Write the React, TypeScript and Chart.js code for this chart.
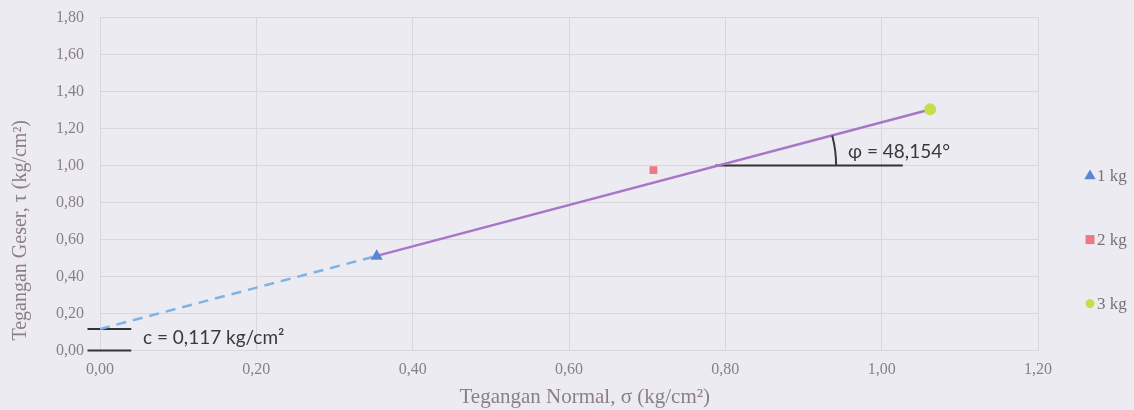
import React, { useEffect, useRef } from "react";
import { Chart, registerables } from "chart.js";

Chart.register(...registerables);

// ---- data ----
const categories = ["1 kg", "2 kg", "3 kg"];
const normalStress = [0.354, 0.708, 1.062];
const shearStress = [0.51, 0.975, 1.305];
const fitLineX = [0.354, 1.062];
const fitLineY = [0.512, 1.303];
const extrapX = [0, 0.354];
const extrapY = [0.117, 0.512];
const cohesionMarkX = [-0.016, 0.04];
const cohesionMarkY = [0.117, 0.117];
const zeroMarkY = [0, 0];
const angleBaseX = [0.787, 1.027];
const angleBaseY = [1.0, 1.0];
const cohesionLabel = "c = 0,117 kg/cm²";
const phiLabel = "φ = 48,154°";
const cohesionLabelPos = [0.055, 0.07];
const phiLabelPos = [0.957, 1.074];
const xTicks = [0, 0.2, 0.4, 0.6, 0.8, 1.0, 1.2];
const yTicks = [0, 0.2, 0.4, 0.6, 0.8, 1.0, 1.2, 1.4, 1.6, 1.8];

const pointStyles = ["triangle", "rect", "circle"];
const pointColors = ["#5b86d6", "#ec7a82", "#c6de4a"];
const pointRadii = [7, 5.5, 6];

const SERIF = "'Liberation Serif', 'Times New Roman', serif";
const TEXT_GRAY = "#8a7f86";

const fmt = (v: number) => v.toFixed(2).replace(".", ",");
const toPts = (xs: number[], ys: number[]) => xs.map((x, i) => ({ x, y: ys[i] }));

const bgPlugin = {
  id: "bg",
  beforeDraw(chart: any) {
    const { ctx, width, height } = chart;
    ctx.save();
    ctx.fillStyle = "#ecebf1";
    ctx.fillRect(0, 0, width, height);
    ctx.restore();
  },
};

function drawMarker(ctx: CanvasRenderingContext2D, style: string, x: number, y: number, r: number) {
  ctx.beginPath();
  if (style === "triangle") {
    ctx.moveTo(x, y - r);
    ctx.lineTo(x + r * 0.95, y + r * 0.6);
    ctx.lineTo(x - r * 0.95, y + r * 0.6);
    ctx.closePath();
  } else if (style === "rect") {
    ctx.rect(x - r, y - r, 2 * r, 2 * r);
  } else {
    ctx.arc(x, y, r, 0, Math.PI * 2);
  }
  ctx.fill();
}

const legendPlugin = {
  id: "customLegend",
  afterDraw(chart: any) {
    const { ctx, chartArea } = chart;
    ctx.save();
    ctx.font = `17px ${SERIF}`;
    ctx.textBaseline = "middle";
    ctx.textAlign = "left";
    categories.forEach((label, i) => {
      const y = chartArea.top + 158 + i * 64;
      const mx = chartArea.right + 52;
      ctx.fillStyle = pointColors[i];
      drawMarker(ctx, pointStyles[i], mx, y, i === 0 ? 6 : 4.5);
      ctx.fillStyle = "#7c7076";
      ctx.fillText(label, mx + 7, y + 1);
    });
    ctx.restore();
  },
};

const annotPlugin = {
  id: "annot",
  afterDatasetsDraw(chart: any) {
    const { ctx } = chart;
    const xs = chart.scales.x;
    const ys = chart.scales.y;
    ctx.save();
    // angle arc
    const x1 = xs.getPixelForValue(fitLineX[0]);
    const y1 = ys.getPixelForValue(fitLineY[0]);
    const x2 = xs.getPixelForValue(fitLineX[1]);
    const y2 = ys.getPixelForValue(fitLineY[1]);
    const cy = ys.getPixelForValue(angleBaseY[0]);
    const cx = x1 + ((y1 - cy) / (y1 - y2)) * (x2 - x1);
    const theta = Math.atan2(y1 - y2, x2 - x1);
    ctx.strokeStyle = "#3a3a3a";
    ctx.lineWidth = 2;
    ctx.beginPath();
    ctx.arc(cx, cy, 118, -theta, 0);
    ctx.stroke();
    // labels
    ctx.fillStyle = "#3a3a3a";
    ctx.font = "19px Lato";
    ctx.textBaseline = "middle";
    ctx.textAlign = "left";
    ctx.fillText(cohesionLabel, xs.getPixelForValue(cohesionLabelPos[0]), ys.getPixelForValue(cohesionLabelPos[1]));
    ctx.fillText(phiLabel, xs.getPixelForValue(phiLabelPos[0]), ys.getPixelForValue(phiLabelPos[1]));
    ctx.restore();
  },
};

export default function App() {
  const ref = useRef<HTMLCanvasElement>(null);
  useEffect(() => {
    if (!ref.current) return;
    const lineBase = {
      showLine: true,
      pointRadius: 0,
      pointHoverRadius: 0,
      fill: false,
    };
    const chart = new Chart(ref.current, {
      type: "scatter",
      data: {
        datasets: [
          ...categories.map((c, i) => ({
            label: c,
            data: [{ x: normalStress[i], y: shearStress[i] }],
            pointStyle: pointStyles[i] as any,
            pointRadius: pointRadii[i],
            backgroundColor: pointColors[i],
            borderColor: pointColors[i],
            borderWidth: 0,
          })),
          { ...lineBase, label: "fit", data: toPts(fitLineX, fitLineY), borderColor: "#a876c8", borderWidth: 2.5 },
          { ...lineBase, label: "ext", data: toPts(extrapX, extrapY), borderColor: "#80b2e2", borderWidth: 2.5, borderDash: [10, 7] },
          { ...lineBase, label: "c", data: toPts(cohesionMarkX, cohesionMarkY), borderColor: "#333333", borderWidth: 2, clip: false },
          { ...lineBase, label: "z", data: toPts(cohesionMarkX, zeroMarkY), borderColor: "#333333", borderWidth: 2, clip: false },
          { ...lineBase, label: "b", data: toPts(angleBaseX, angleBaseY), borderColor: "#333333", borderWidth: 2 },
        ] as any,
      },
      options: {
        animation: false,
        responsive: false,
        maintainAspectRatio: false,
        layout: { padding: { top: 0, right: 96, bottom: 0, left: 9 } },
        plugins: {
          tooltip: { enabled: false },
          legend: { display: false },
        },
        scales: {
          x: {
            type: "linear",
            min: 0,
            max: 1.2,
            afterBuildTicks: (s: any) => { s.ticks = xTicks.map((v) => ({ value: v })); },
            ticks: {
              callback: (v: any) => fmt(Number(v)),
              color: TEXT_GRAY,
              font: { family: SERIF, size: 16 },
              padding: 10,
            },
            grid: { color: "#dbd6dc", drawTicks: false },
            border: { color: "#dbd6dc" },
            title: {
              display: true,
              text: "      Tegangan Normal, σ (kg/cm²)",
              color: TEXT_GRAY,
              font: { family: SERIF, size: 21 },
              padding: { top: -5, bottom: 0 },
            },
          },
          y: {
            type: "linear",
            min: 0,
            max: 1.8,
            afterBuildTicks: (s: any) => { s.ticks = yTicks.map((v) => ({ value: v })); },
            ticks: {
              callback: (v: any) => fmt(Number(v)),
              color: TEXT_GRAY,
              font: { family: SERIF, size: 16, lineHeight: 0.2 },
              padding: 16,
            },
            grid: { color: "#dbd6dc", drawTicks: false },
            border: { color: "#dbd6dc" },
            title: {
              display: true,
              text: "  Tegangan Geser, τ (kg/cm²)",
              align: "start",
              color: TEXT_GRAY,
              font: { family: SERIF, size: 20 },
              padding: { top: 0, bottom: 7 },
            },
          },
        },
      },
      plugins: [bgPlugin, annotPlugin, legendPlugin],
    } as any);
    return () => chart.destroy();
  }, []);
  return (
    <div style={{ position: "absolute", left: 0, top: 0, width: 1134, height: 410 }}>
      <canvas ref={ref} width={1134} height={410} style={{ width: 1134, height: 410 }} />
    </div>
  );
}
